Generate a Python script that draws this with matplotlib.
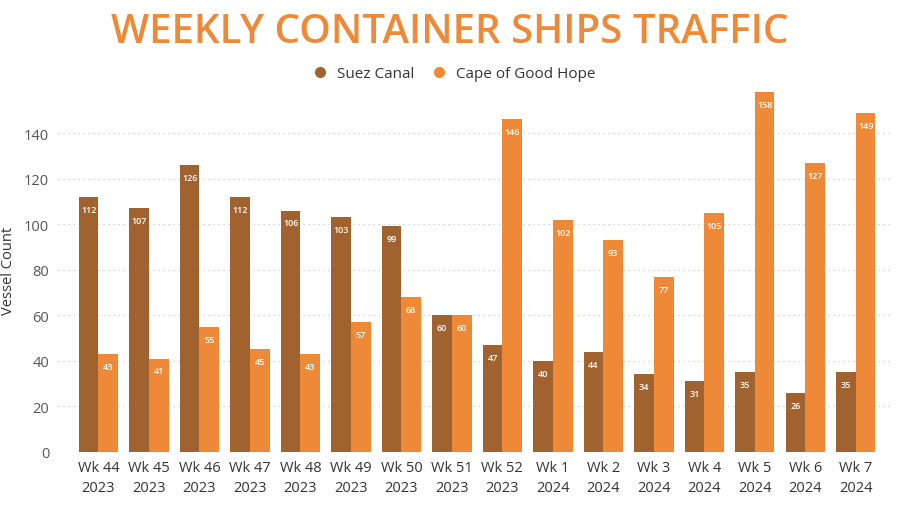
import numpy as np
import matplotlib.pyplot as plt
from matplotlib.lines import Line2D

weeks = ['Wk 44\n2023', 'Wk 45\n2023', 'Wk 46\n2023', 'Wk 47\n2023', 'Wk 48\n2023',
         'Wk 49\n2023', 'Wk 50\n2023', 'Wk 51\n2023', 'Wk 52\n2023', 'Wk 1\n2024',
         'Wk 2\n2024', 'Wk 3\n2024', 'Wk 4\n2024', 'Wk 5\n2024', 'Wk 6\n2024', 'Wk 7\n2024']
suez = [112, 107, 126, 112, 106, 103, 99, 60, 47, 40, 44, 34, 31, 35, 26, 35]
cape = [43, 41, 55, 45, 43, 57, 68, 60, 146, 102, 93, 77, 105, 158, 127, 149]

c_suez = '#A0632F'
c_cape = '#EE8A37'

plt.rcParams['font.family'] = ['Open Sans', 'DejaVu Sans']

fig = plt.figure(figsize=(9, 5.06), dpi=100)
ax = fig.add_axes([0.064, 0.105, 0.925, 0.72])

x = np.arange(len(weeks))
w = 0.39
b1 = ax.bar(x - w / 2, suez, w, color=c_suez)
b2 = ax.bar(x + w / 2, cape, w, color=c_cape)

for bars in (b1, b2):
    for r in bars:
        h = r.get_height()
        ax.text(r.get_x() + r.get_width() / 2, h - 3.5, f'{int(h)}', ha='center', va='top',
                color='white', fontsize=6.5, fontweight='semibold')

ax.set_xlim(-0.81, 15.68)
ax.set_ylim(0, 160)
ax.set_yticks(range(0, 141, 20))
ax.set_xticks(x)
ax.set_xticklabels(weeks, fontsize=10.5, color='#333333', linespacing=1.4)
ax.tick_params(axis='y', labelsize=10.5, colors='#555555', length=0, pad=6)
ax.tick_params(axis='x', length=0, pad=6)
ax.set_ylabel('Vessel Count', fontsize=10.5, color='#333333', labelpad=6)
ax.grid(axis='y', linestyle=(0, (1, 3)), color='#C8C8C8', linewidth=0.9)
ax.set_axisbelow(True)
for s in ax.spines.values():
    s.set_visible(False)

fig.text(0.5, 0.935, 'WEEKLY CONTAINER SHIPS TRAFFIC', ha='center', va='center',
         fontsize=29, fontweight='semibold', color=c_cape)

handles = [Line2D([], [], marker='o', linestyle='', color=c_suez, markersize=7),
           Line2D([], [], marker='o', linestyle='', color=c_cape, markersize=7)]
fig.legend(handles, ['Suez Canal', 'Cape of Good Hope'], loc='center', bbox_to_anchor=(0.5, 0.853),
           ncol=2, frameon=False, fontsize=11, handletextpad=0.1, columnspacing=0.6,
           labelcolor='#333333')

fig.savefig('out.png', dpi=100, facecolor='white')
